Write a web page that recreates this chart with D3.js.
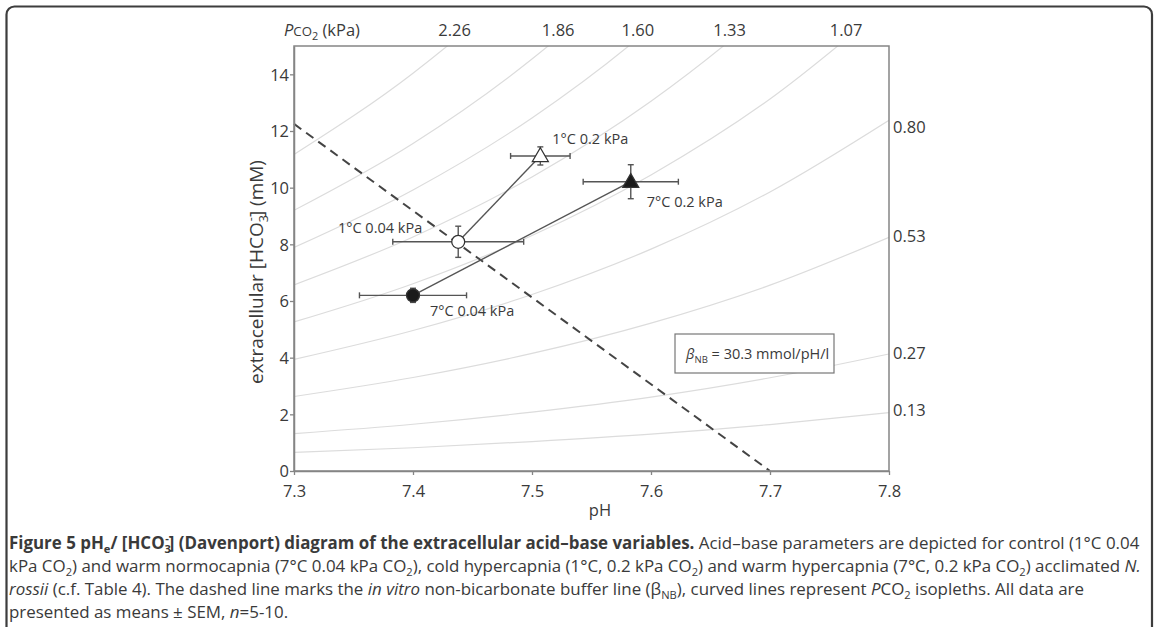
<!DOCTYPE html>
<html><head><meta charset="utf-8">
<script src="https://cdn.jsdelivr.net/npm/d3@7"></script>
<style>
body{margin:0;background:#fff;}
svg text{font-family:"Open Sans","Noto Sans",sans-serif;fill:#3a3a3a;}
</style></head>
<body><svg id="chart" width="1155" height="627"></svg>
<script>
// ---------- data ----------
const phTicks = [7.3, 7.4, 7.5, 7.6, 7.7, 7.8];
const hco3Ticks = [0, 2, 4, 6, 8, 10, 12, 14];
const groupNames = ["1°C 0.04 kPa", "1°C 0.2 kPa", "7°C 0.04 kPa", "7°C 0.2 kPa"];
const groupPH = [7.438, 7.507, 7.400, 7.583];
const groupHCO3 = [8.09, 11.12, 6.2, 10.21];
const groupPHErr = [0.055, 0.025, 0.045, 0.04];
const groupHCO3Err = [0.55, 0.32, 0.25, 0.6];
const groupMarker = ["circle-open", "triangle-open", "circle-filled", "triangle-filled"];
// isopleths (PCO2, kPa) read at pH 7.3 .. 7.8
const isoPCO2 = [2.26, 1.86, 1.60, 1.33, 1.07, 0.80, 0.53, 0.27, 0.13];
const isoPH = [7.3, 7.4, 7.5, 7.6, 7.7, 7.8];
const isoHCO3 = [
  [11.17, 14.04, 17.65, 22.18, 27.9, 35.1],
  [9.20, 11.56, 14.54, 18.27, 22.97, 28.87],
  [7.89, 9.92, 12.46, 15.66, 19.70, 24.75],
  [6.57, 8.26, 10.38, 13.05, 16.41, 20.62],
  [5.26, 6.61, 8.31, 10.45, 13.13, 16.51],
  [3.94, 4.96, 6.23, 7.83, 9.85, 12.38],
  [2.63, 3.30, 4.15, 5.22, 6.56, 8.25],
  [1.32, 1.65, 2.08, 2.61, 3.29, 4.13],
  [0.66, 0.82, 1.04, 1.30, 1.64, 2.06]
];
const topLabels = ["2.26", "1.86", "1.60", "1.33", "1.07"];
const topLabelPH = [7.435, 7.522, 7.589, 7.666, 7.764];
const rightLabels = ["0.80", "0.53", "0.27", "0.13"];
const rightLabelHCO3 = [12.15, 8.3, 4.15, 2.15];
// non-bicarbonate buffer line
const bufferPH = [7.3, 7.7];
const bufferHCO3 = [12.25, 0];
const bufferText = "30.3 mmol/pH/l";

// ---------- layout ----------
const svg = d3.select("#chart");
const x = d3.scaleLinear().domain([7.3, 7.8]).range([294, 889]);
const y = d3.scaleLinear().domain([0, 15]).range([471, 46]);
const axisCol = "#858585";

function rich(sel, segs, size) {
  let off = 0;
  segs.forEach(s => {
    const ts = sel.append("tspan").text(s.t);
    const target = s.sub ? size * 0.25 : s.sup ? -size * 0.42 : 0;
    ts.attr("dy", target - off);
    off = target;
    if (s.sub || s.sup) ts.attr("font-size", size * 0.66);
    if (s.small) ts.attr("font-size", size * 0.8);
    if (s.b) ts.attr("font-weight", "bold");
    if (s.i) ts.attr("font-style", "italic");
    if (s.dx) ts.attr("dx", s.dx * size);
  });
}

// outer frame
svg.append("rect").attr("x", 6.5).attr("y", 6.5).attr("width", 1145.5).attr("height", 660)
  .attr("rx", 8).attr("fill", "none").attr("stroke", "#3d3d3d").attr("stroke-width", 2.2);

// clip
svg.append("clipPath").attr("id", "plotclip").append("rect")
  .attr("x", x(7.3)).attr("y", y(15)).attr("width", x(7.8) - x(7.3)).attr("height", y(0) - y(15));

const plot = svg.append("g");

// isopleths
const isoLine = d3.line().x((d, i) => x(isoPH[i])).y(d => y(d)).curve(d3.curveMonotoneX);
plot.append("g").attr("clip-path", "url(#plotclip)")
  .selectAll("path").data(isoHCO3).join("path")
  .attr("d", d => isoLine(d)).attr("fill", "none")
  .attr("stroke", "#dcdcdc").attr("stroke-width", 1.2);

// buffer line
plot.append("path")
  .attr("d", d3.line()(bufferPH.map((p, i) => [x(p), y(bufferHCO3[i])])))
  .attr("fill", "none").attr("stroke", "#444").attr("stroke-width", 2)
  .attr("stroke-dasharray", "9,6");

// legend box
const lb = plot.append("g");
lb.append("rect").attr("x", 675).attr("y", 334).attr("width", 159).attr("height", 39)
  .attr("fill", "#fff").attr("stroke", "#777").attr("stroke-width", 1.2);
const lt = lb.append("text").attr("x", 686).attr("y", 359).attr("font-size", 14.5);
rich(lt, [{t: "β", i: true}, {t: "NB", sub: true}, {t: " = " + bufferText}], 14.5);

// plot frame
plot.append("rect").attr("x", x(7.3)).attr("y", y(15)).attr("width", x(7.8) - x(7.3))
  .attr("height", y(0) - y(15)).attr("fill", "none").attr("stroke", axisCol).attr("stroke-width", 1.5);

// axes
const xAxis = svg.append("g").attr("transform", `translate(0,${y(0)})`)
  .call(d3.axisBottom(x).tickValues(phTicks).tickSize(4).tickSizeOuter(0).tickFormat(d3.format(".1f")));
const yAxis = svg.append("g").attr("transform", `translate(${x(7.3)},0)`)
  .call(d3.axisLeft(y).tickValues(hco3Ticks).tickSize(4).tickSizeOuter(0).tickFormat(d3.format("d")));
[xAxis, yAxis].forEach(a => {
  a.select(".domain").attr("stroke", axisCol).attr("stroke-width", 1.5);
  a.selectAll(".tick line").attr("stroke", axisCol).attr("stroke-width", 1.3);
  a.selectAll(".tick text").attr("font-size", 16.5).attr("fill", "#3a3a3a")
    .style("font-family", "'Open Sans','Noto Sans',sans-serif");
});
xAxis.selectAll(".tick text").attr("dy", "1.15em");
yAxis.selectAll(".tick text").attr("x", -5).attr("dy", "0.36em");

// axis titles
svg.append("text").attr("x", 600).attr("y", 516).attr("text-anchor", "middle")
  .attr("font-size", 16.5).text("pH");
const yl = svg.append("text").attr("transform", "translate(263,272) rotate(-90)")
  .attr("text-anchor", "middle").attr("font-size", 19);
rich(yl, [{t: "extracellular [HCO"}, {t: "3", sub: true}, {t: "-", sup: true, dx: -0.32}, {t: "] (mM)"}], 19);

// top PCO2 labels
const tl = svg.append("text").attr("x", 284).attr("y", 36).attr("font-size", 16.5);
rich(tl, [{t: "P", i: true}, {t: "CO", small: true}, {t: "2", sub: true}, {t: " (kPa)"}], 16.5);
svg.append("g").selectAll("text").data(topLabels).join("text")
  .attr("x", (d, i) => x(topLabelPH[i])).attr("y", 36).attr("text-anchor", "middle")
  .attr("font-size", 16.5).text(d => d);
svg.append("g").selectAll("text").data(rightLabels).join("text")
  .attr("x", x(7.8) + 4).attr("y", (d, i) => y(rightLabelHCO3[i])).attr("dy", "0.36em")
  .attr("font-size", 16.5).text(d => d);

// connecting lines: control -> cold hypercapnia, warm normo -> warm hyper
const links = [[0, 1], [2, 3]];
plot.append("g").selectAll("line").data(links).join("line")
  .attr("x1", d => x(groupPH[d[0]])).attr("y1", d => y(groupHCO3[d[0]]))
  .attr("x2", d => x(groupPH[d[1]])).attr("y2", d => y(groupHCO3[d[1]]))
  .attr("stroke", "#555").attr("stroke-width", 1.4);

// error bars
const eb = plot.append("g").attr("stroke", "#555").attr("stroke-width", 1.4);
groupPH.forEach((p, i) => {
  const cx = x(p), cy = y(groupHCO3[i]);
  const x0 = x(p - groupPHErr[i]), x1 = x(p + groupPHErr[i]);
  const y0 = y(groupHCO3[i] - groupHCO3Err[i]), y1 = y(groupHCO3[i] + groupHCO3Err[i]);
  eb.append("line").attr("x1", x0).attr("x2", x1).attr("y1", cy).attr("y2", cy);
  eb.append("line").attr("x1", cx).attr("x2", cx).attr("y1", y0).attr("y2", y1);
  [x0, x1].forEach(v => eb.append("line").attr("x1", v).attr("x2", v).attr("y1", cy - 3).attr("y2", cy + 3));
  [y0, y1].forEach(v => eb.append("line").attr("x1", cx - 3).attr("x2", cx + 3).attr("y1", v).attr("y2", v));
});

// markers
const mk = plot.append("g");
groupPH.forEach((p, i) => {
  const cx = x(p), cy = y(groupHCO3[i]);
  const t = groupMarker[i];
  const filled = t.endsWith("filled");
  if (t.startsWith("circle")) {
    mk.append("circle").attr("cx", cx).attr("cy", cy).attr("r", 6.5)
      .attr("fill", filled ? "#1a1a1a" : "#fff").attr("stroke", "#333").attr("stroke-width", 1.3);
  } else {
    const s = d3.symbol().type(d3.symbolTriangle).size(110);
    mk.append("path").attr("d", s()).attr("transform", `translate(${cx},${cy + 1})`)
      .attr("fill", filled ? "#1a1a1a" : "#fff").attr("stroke", "#333").attr("stroke-width", 1.3);
  }
});

// data labels
const labOff = [[-36, -9, "end"], [12, -12, "start"], [17, 21, "start"], [16, 25, "start"]];
plot.append("g").selectAll("text").data(groupNames).join("text")
  .attr("x", (d, i) => x(groupPH[i]) + labOff[i][0])
  .attr("y", (d, i) => y(groupHCO3[i]) + labOff[i][1])
  .attr("text-anchor", (d, i) => labOff[i][2])
  .attr("font-size", 14.5).text(d => d);

// caption
const capLines = [
  [{t: "Figure 5 pH", b: true}, {t: "e", sub: true, b: true}, {t: "/ [HCO", b: true}, {t: "3", sub: true, b: true},
   {t: "-", sup: true, b: true, dx: -0.34}, {t: "] (Davenport) diagram of the extracellular acid–base variables.", b: true},
   {t: " Acid–base parameters are depicted for control (1°C 0.04"}],
  [{t: "kPa CO"}, {t: "2", sub: true}, {t: ") and warm normocapnia (7°C 0.04 kPa CO"}, {t: "2", sub: true},
   {t: "), cold hypercapnia (1°C, 0.2 kPa CO"}, {t: "2", sub: true}, {t: ") and warm hypercapnia (7°C, 0.2 kPa CO"},
   {t: "2", sub: true}, {t: ") acclimated "}, {t: "N.", i: true}],
  [{t: "rossii", i: true}, {t: " (c.f. Table 4). The dashed line marks the "}, {t: "in vitro", i: true},
   {t: " non-bicarbonate buffer line (β"}, {t: "NB", sub: true}, {t: "), curved lines represent "}, {t: "P", i: true},
   {t: "CO"}, {t: "2", sub: true}, {t: " isopleths. All data are"}],
  [{t: "presented as means ± SEM, "}, {t: "n", i: true}, {t: "=5-10."}]
];
const capY = [549, 572, 595, 618];
const capG = svg.append("g");
function drawCaption(size) {
  capG.selectAll("*").remove();
  capLines.forEach((segs, k) => {
    const t = capG.append("text").attr("x", 9).attr("y", capY[k]).attr("font-size", size);
    rich(t, segs, size);
  });
}
drawCaption(16);
const w2 = capG.selectAll("text").nodes()[1].getComputedTextLength();
drawCaption(16 * (1133 / w2));
</script></body></html>
